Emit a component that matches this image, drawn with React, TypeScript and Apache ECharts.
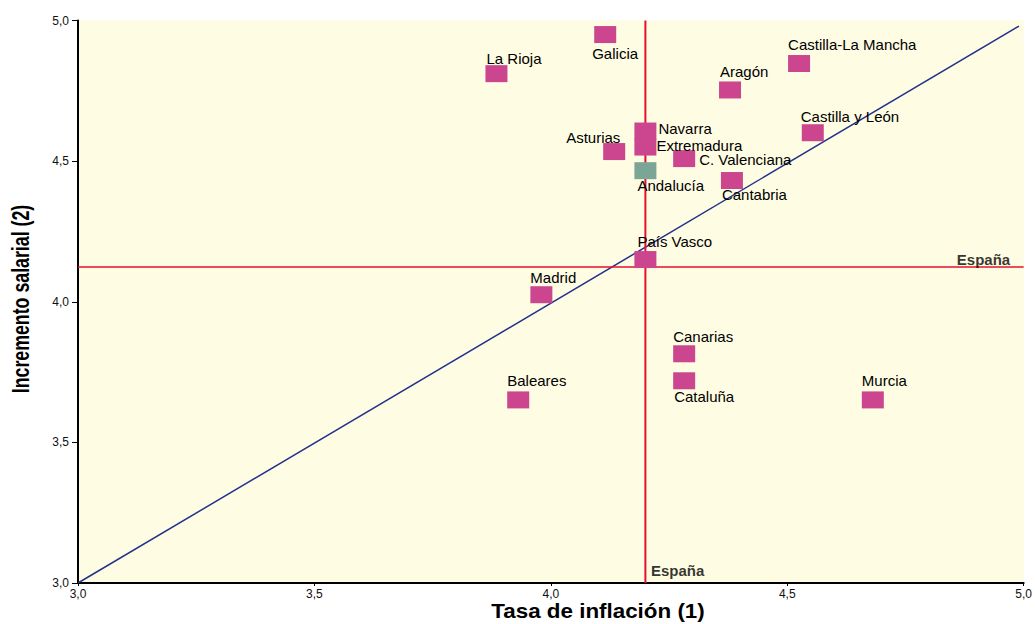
import React, { useEffect, useRef } from "react";
import * as echarts from "echarts";

// ---- Data ----
const regions = [
  "Galicia", "La Rioja", "Castilla-La Mancha", "Aragón", "Castilla y León",
  "Navarra", "Extremadura", "Asturias", "C. Valenciana", "Andalucía",
  "Cantabria", "País Vasco", "Madrid", "Canarias", "Cataluña", "Baleares", "Murcia",
];
const inflation = [
  4.115, 3.885, 4.525, 4.379, 4.554,
  4.2, 4.2, 4.134, 4.282, 4.2,
  4.383, 4.2, 3.98, 4.282, 4.282, 3.931, 4.681,
];
const salary = [
  4.95, 4.811, 4.847, 4.753, 4.601,
  4.607, 4.55, 4.534, 4.509, 4.466,
  4.431, 4.15, 4.025, 3.815, 3.719, 3.651, 3.651,
];
const spainInflation = 4.2;
const spainSalary = 4.124;
const trendX = [3.0, 4.99];
const trendY = [3.0, 4.98];
const axisTicks = [3.0, 3.5, 4.0, 4.5, 5.0];
const highlighted = "Andalucía";

// label offsets (label left − square left, label cap-top − square top)
const labelOffsets: Record<string, [number, number]> = {
  "Galicia": [-2, 22],
  "La Rioja": [1, -12],
  "Castilla-La Mancha": [0, -15.7],
  "Aragón": [1, -15],
  "Castilla y León": [-1, -13],
  "Navarra": [24, 0.6],
  "Extremadura": [22, 1.0],
  "Asturias": [-37, -11],
  "C. Valenciana": [26, 3.6],
  "Andalucía": [3, 18],
  "Cantabria": [1, 17],
  "País Vasco": [3, -15],
  "Madrid": [0, -14.3],
  "Canarias": [0, -14],
  "Cataluña": [1, 18.7],
  "Baleares": [0, -16],
  "Murcia": [0, -16],
};

const CAP = 1;
const FONT = "'Liberation Sans', Arial, Helvetica, sans-serif";
const fmt = (v: number) => v.toFixed(1).replace(".", ",");

export default function App() {
  const ref = useRef<HTMLDivElement>(null);
  useEffect(() => {
    if (!ref.current) return;
    const chart = echarts.init(ref.current, undefined, { renderer: "svg" });
    const points = regions.map((name, i) => {
      const off = labelOffsets[name] || [0, -15];
      return {
        name,
        value: [inflation[i], salary[i]],
        itemStyle: { color: name === highlighted ? "#7BA595" : "#CB468E", opacity: 1 },
        label: { position: [off[0], off[1] - CAP] },
      };
    });
    chart.setOption({
      animation: false,
      backgroundColor: "#ffffff",
      grid: {
        left: 78, right: 10, top: 20.5, bottom: 41,
        show: true, backgroundColor: "#FEFCE3", borderWidth: 0,
      },
      xAxis: {
        type: "value", min: axisTicks[0], max: axisTicks[axisTicks.length - 1], interval: 0.5,
        axisLine: { show: true, onZero: false, lineStyle: { color: "#000", width: 2 } },
        axisTick: { show: true, length: 3, lineStyle: { color: "#000" } },
        axisLabel: { formatter: fmt, fontSize: 12, color: "#111", fontFamily: FONT, margin: 5 },
        splitLine: { show: false },
      },
      yAxis: {
        type: "value", min: axisTicks[0], max: axisTicks[axisTicks.length - 1], interval: 0.5,
        axisLine: { show: true, onZero: false, lineStyle: { color: "#000", width: 2 } },
        axisTick: { show: true, length: 6, lineStyle: { color: "#000" } },
        axisLabel: { formatter: fmt, fontSize: 12, color: "#111", fontFamily: FONT, margin: 9 },
        splitLine: { show: false },
      },
      graphic: [
        {
          type: "text", x: 598, y: 611, scaleX: 1.12,
          style: {
            text: "Tasa de inflación (1)", fontSize: 20, fontWeight: "bold", fontFamily: FONT,
            fill: "#000", align: "center", verticalAlign: "middle",
            textAlign: "center", textVerticalAlign: "middle",
          },
        },
        {
          type: "text", x: 20, y: 299, rotation: Math.PI / 2, scaleX: 0.74,
          style: {
            text: "Incremento salarial (2)", fontSize: 24, fontWeight: "bold", fontFamily: FONT,
            fill: "#000", align: "center", verticalAlign: "middle",
            textAlign: "center", textVerticalAlign: "middle",
          },
        },
      ],
      series: [
        {
          type: "line", name: "tendencia", z: 1, symbol: "none", silent: true,
          data: trendX.map((x, i) => [x, trendY[i]]),
          lineStyle: { color: "#22318C", width: 1.5 },
        },
        {
          type: "line", name: "España inflación", z: 1, symbol: "none", silent: true,
          data: [[spainInflation, axisTicks[0]], [spainInflation, axisTicks[axisTicks.length - 1]]],
          lineStyle: { color: "#E4102E", width: 2 },
        },
        {
          type: "line", name: "España salario", z: 1, symbol: "none", silent: true,
          data: [[axisTicks[0], spainSalary], [axisTicks[axisTicks.length - 1], spainSalary]],
          lineStyle: { color: "#E4102E", width: 1.5 },
        },
        {
          type: "scatter", name: "regiones", z: 3, symbol: "rect", symbolSize: [22, 17],
          data: points,
          label: {
            show: true, formatter: "{b}", fontSize: 15, lineHeight: 13,
            color: "#000", fontFamily: FONT,
          },
        },
        {
          type: "scatter", name: "España", z: 4, symbol: "rect", symbolSize: 1,
          itemStyle: { color: "transparent" },
          data: [
            { name: "España", value: [spainInflation, axisTicks[0]], label: { position: [6, -20], align: "left" } },
            { name: "España", value: [axisTicks[axisTicks.length - 1], spainSalary], label: { position: [-13, -14], align: "right" } },
          ],
          label: {
            show: true, formatter: "{b}", fontSize: 15, lineHeight: 15, fontWeight: "bold",
            color: "#000", fontFamily: FONT,
          },
        },
      ],
    });
    return () => chart.dispose();
  }, []);
  return (
    <div
      ref={ref}
      style={{ position: "absolute", left: 0, top: 0, width: 1035, height: 624 }}
    />
  );
}
